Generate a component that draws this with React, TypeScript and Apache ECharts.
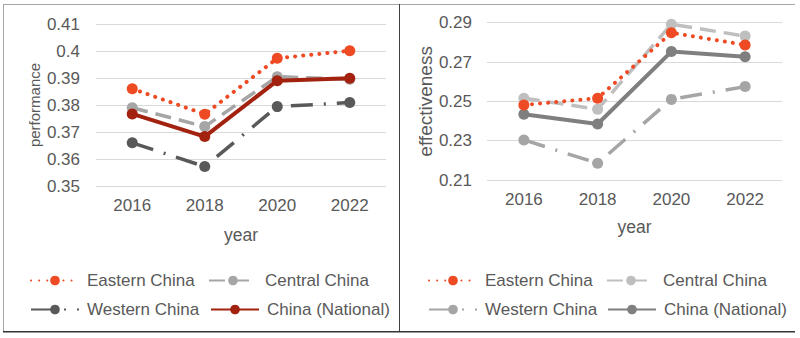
import React, { useEffect, useRef } from "react";
import * as echarts from "echarts";

// Survey years on the category axis
const years = ["2016", "2018", "2020", "2022"];

// Performance index by region
const perfEastern = [0.386, 0.3766, 0.3973, 0.4001];
const perfCentral = [0.379, 0.372, 0.3905, 0.3895];
const perfWestern = [0.366, 0.3572, 0.3794, 0.3809];
const perfNational = [0.3767, 0.3683, 0.389, 0.3899];

// Effectiveness index by region
const effEastern = [0.2482, 0.2516, 0.2849, 0.2787];
const effCentral = [0.2516, 0.246, 0.2892, 0.2832];
const effWestern = [0.2304, 0.2185, 0.251, 0.2575];
const effNational = [0.2434, 0.2385, 0.2753, 0.2727];

// Value-axis tick labels of the effectiveness panel
const effTicks = [0.21, 0.23, 0.25, 0.27, 0.29];

const seriesNames = ["Eastern China", "Central China", "Western China", "China (National)"];

const FONT = "'Liberation Sans', Arial, sans-serif";
const TEXT = "#595959";
const GRID_LINE = "#D9D9D9";

const DOTTED = [0.1, 8];
const DASHED = [16, 8];
const DASH_DOT = [22, 11, 2, 11];

export default function App() {
  const ref = useRef<HTMLDivElement>(null);

  useEffect(() => {
    if (!ref.current) return;
    const chart = echarts.init(ref.current, undefined, { renderer: "svg" });

    const lineSeries = (
      name: string,
      data: number[],
      axis: number,
      color: string,
      dash: any,
      width: number,
      cap: "round" | "butt",
      z: number
    ) => ({
      type: "line",
      name,
      data,
      xAxisIndex: axis,
      yAxisIndex: axis,
      symbol: "circle",
      symbolSize: 11,
      z,
      itemStyle: { color },
      lineStyle: { color, width, type: dash, cap },
    });

    const axisLabelStyle = { color: TEXT, fontFamily: FONT, fontSize: 17 };

    const legendItem = (name: string, left: number, top: number) => ({
      show: true,
      data: [name],
      left,
      top,
      padding: 0,
      itemWidth: 48,
      itemHeight: 12,
      selectedMode: false,
      textStyle: { color: TEXT, fontFamily: FONT, fontSize: 17, padding: [0, 0, 0, 3] },
    });

    const leftLegendNames = seriesNames.map((n) => n);
    const rightLegendNames = seriesNames.map((n) => n + " ");

    // thin filled bars used as panel frame lines
    const frameBar = (x: number, y: number, w: number, h: number, color: string) => ({
      type: "rect",
      silent: true,
      z: 100,
      shape: { x, y, width: w, height: h },
      style: { fill: color },
    });

    const option: any = {
      animation: false,
      backgroundColor: "#ffffff",
      grid: [
        { left: 96, right: 414, top: 24, bottom: 152 },
        { left: 487, right: 18, top: 22.7, bottom: 158 },
      ],
      xAxis: [0, 1].map((i) => ({
        type: "category",
        gridIndex: i,
        data: years,
        boundaryGap: true,
        axisLine: { show: false },
        axisTick: { show: false },
        axisLabel: { ...axisLabelStyle, margin: 11 },
        name: "year",
        nameLocation: "middle",
        nameGap: i === 0 ? 40 : 38,
        nameTextStyle: { color: TEXT, fontFamily: FONT, fontSize: 17.5 },
      })),
      yAxis: [
        {
          type: "value",
          gridIndex: 0,
          min: 0.35,
          max: 0.41,
          interval: 0.01,
          axisLine: { show: false },
          axisTick: { show: false },
          axisLabel: { ...axisLabelStyle, margin: 16 },
          splitLine: { lineStyle: { color: GRID_LINE, width: 1 } },
          name: "performance",
          nameLocation: "middle",
          nameGap: 54,
          nameTextStyle: { color: TEXT, fontFamily: FONT, fontSize: 15 },
        },
        {
          type: "value",
          gridIndex: 1,
          min: 0.21,
          max: 0.29,
          axisLine: { show: false },
          axisTick: { show: false },
          axisLabel: {
            ...axisLabelStyle,
            margin: 15,
            customValues: effTicks,
            formatter: (v: number) => String(Math.round(v * 100) / 100),
          },
          splitLine: { show: false },
          name: "effectiveness",
          nameLocation: "middle",
          nameGap: 52,
          nameTextStyle: { color: TEXT, fontFamily: FONT, fontSize: 19 },
        },
      ],
      legend: [
        legendItem(leftLegendNames[0], 30, 272),
        legendItem(leftLegendNames[1], 208, 272),
        legendItem(leftLegendNames[2], 30, 301),
        legendItem(leftLegendNames[3], 210, 301),
        legendItem(rightLegendNames[0], 428, 272),
        legendItem(rightLegendNames[1], 606, 272),
        legendItem(rightLegendNames[2], 428, 301),
        legendItem(rightLegendNames[3], 607, 301),
      ],
      graphic: [
        frameBar(3, 4, 792, 1, "#A6A6A6"),
        frameBar(3, 4, 1, 328, "#A6A6A6"),
        frameBar(399, 4, 1, 328, "#404040"),
        frameBar(3, 331, 792, 1.5, "#333333"),
      ],
      series: [
        // performance panel
        lineSeries(leftLegendNames[1], perfCentral, 0, "#A6A6A6", DASHED, 3.5, "butt", 2),
        lineSeries(leftLegendNames[2], perfWestern, 0, "#595959", DASH_DOT, 3.5, "butt", 2),
        lineSeries(leftLegendNames[0], perfEastern, 0, "#EE4B25", DOTTED, 4, "round", 3),
        lineSeries(leftLegendNames[3], perfNational, 0, "#A2220F", "solid", 4, "butt", 4),
        // effectiveness panel
        {
          ...lineSeries(rightLegendNames[3], effNational, 1, "#7F7F7F", "solid", 4, "butt", 2),
          markLine: {
            silent: true,
            symbol: "none",
            z: 1,
            label: { show: false },
            lineStyle: { color: GRID_LINE, width: 1, type: "solid" },
            data: effTicks.map((v) => ({ yAxis: v })),
          },
        },
        lineSeries(rightLegendNames[2], effWestern, 1, "#A5A5A5", DASH_DOT, 3.5, "butt", 2),
        lineSeries(rightLegendNames[1], effCentral, 1, "#BFBFBF", DASHED, 3.5, "butt", 3),
        lineSeries(rightLegendNames[0], effEastern, 1, "#EE4B25", DOTTED, 4, "round", 4),
      ],
    };

    chart.setOption(option);
    return () => chart.dispose();
  }, []);

  return (
    <div
      ref={ref}
      style={{ position: "absolute", left: 0, top: 0, width: 800, height: 338 }}
    />
  );
}
